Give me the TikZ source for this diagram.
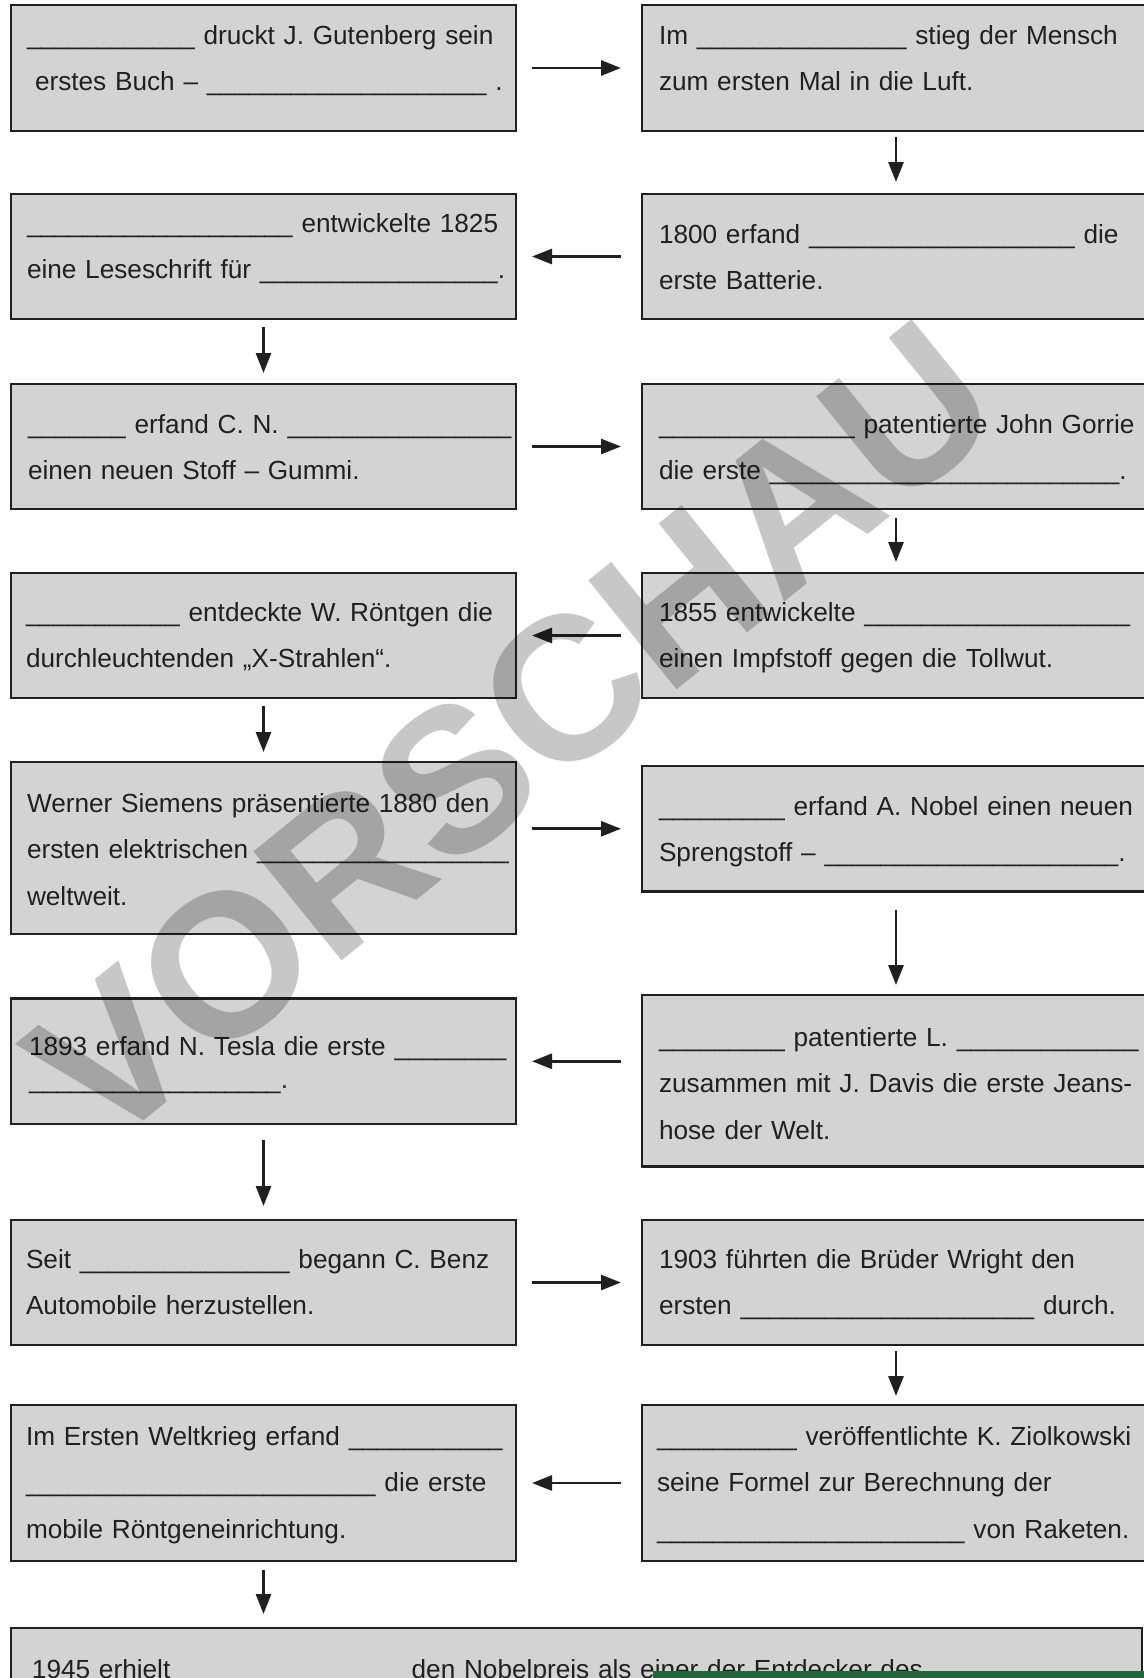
\documentclass[tikz,border=0pt]{standalone}
\usepackage{fontspec}
\setmainfont{Liberation Sans}
\usepackage{xcolor}
\usepackage{graphicx}
\usepackage{tikz}
\usetikzlibrary{arrows.meta,positioning}

\definecolor{boxgray}{HTML}{D1D3D4}
\definecolor{inkgray}{HTML}{231F20}
\definecolor{bargreen}{HTML}{24653A}

\newcount\gapcount
\newcommand\blank[1]{\scalebox{0.96}[1]{\gapcount=#1\relax\loop\textunderscore\advance\gapcount by -1\ifnum\gapcount>0 \repeat}}

\begin{document}
\begin{tikzpicture}[x=0.5pt, y=-0.5pt, every node/.style={inner sep=0pt, outer sep=0pt}]
  % Inventions worksheet: blank cloze cards
  \tikzstyle{card} = [rectangle, fill=boxgray, draw=inkgray, line width=1.4pt, anchor=north west, minimum width=252.5pt, minimum height=62.5pt]
  \tikzstyle{rcard} = [card, minimum width=254pt]
  \tikzstyle{cardtext} = [anchor=north west, align=left, text width=300pt, text=inkgray, font=\fontsize{13.1pt}{23.3pt}\selectfont, execute at begin node={\rule{0pt}{16pt}}]
  \tikzstyle{flow} = [line width=1.4pt, draw=inkgray, -{Triangle[length=10pt, width=7.5pt]}]
  \tikzstyle{stamp} = [text=black, text opacity=0.22, font=\fontsize{102pt}{102pt}\selectfont\bfseries, rotate=39]

  \useasboundingbox (0,0) rectangle (1144,1678);

  % Left column
  \node[card, minimum height=63pt] (druck) at (11,5) {};
  \node[card] (braille) at (11,194) {};
  \node[card] (gummi) at (11,384) {};
  \node[card] (roentgen) at (11,573) {};
  \node[card, minimum height=86pt] (lok) at (11,762) {};
  \node[card, minimum height=62.75pt] (tesla) at (11,998.5) {};
  \node[card] (benz) at (11,1220) {};
  \node[card, minimum height=78pt] (mobil) at (11,1405) {};

  % Right column
  \node[rcard, minimum height=63pt] (ballon) at (642,5) {};
  \node[rcard] (batterie) at (642,194) {};
  \node[rcard] (kuehl) at (642,384) {};
  \node[rcard] (impf) at (642,573) {};
  \node[rcard, minimum height=62.75pt] (dynamit) at (642,766) {};
  \node[rcard, minimum height=85.75pt] (jeans) at (642,995) {};
  \node[rcard] (flug) at (642,1220) {};
  \node[rcard, minimum height=78pt] (rakete) at (642,1405) {};

  % Bottom card
  \node[card, minimum width=565.5pt, minimum height=50pt] (nobel) at (11,1628) {};

  % Card texts
  \node[cardtext] (druck-txt) at (27,12) {\blank{11} druckt J. Gutenberg sein\\ \hspace*{4pt}erstes Buch – \blank{19} .};
  \node[cardtext] (ballon-txt) at (659,12) {Im \blank{14} stieg der Mensch\\zum ersten Mal in die Luft.};
  \node[cardtext] (braille-txt) at (27,200) {\blank{18} entwickelte 1825\\eine Leseschrift für \blank{16}.};
  \node[cardtext] (batterie-txt) at (659,211) {1800 erfand \blank{18} die\\erste Batterie.};
  \node[cardtext] (gummi-txt) at (28,401) {\blank{6} erfand C. N. \blank{15}\\einen neuen Stoff – Gummi.};
  \node[cardtext] (kuehl-txt) at (659,401) {\blank{13} patentierte John Gorrie\\die erste \blank{24}.};
  \node[cardtext] (roentgen-txt) at (26,589) {\blank{10} entdeckte W. Röntgen die\\durchleuchtenden „X-Strahlen“.};
  \node[cardtext] (impf-txt) at (659,589) {1855 entwickelte \blank{18}\\einen Impfstoff gegen die Tollwut.};
  \node[cardtext] (lok-txt) at (27,780) {Werner Siemens präsentierte 1880 den\\ersten elektrischen \blank{17}\\weltweit.};
  \node[cardtext] (dynamit-txt) at (659,783) {\blank{8} erfand A. Nobel einen neuen\\Sprengstoff – \blank{20}.};
  \node[cardtext] (tesla-txt) at (29,1023) {1893 erfand N. Tesla die erste \blank{7}\\[-6.8pt]\blank{17}.};
  \node[cardtext] (jeans-txt) at (659,1014) {\blank{8} patentierte L. \blank{12}\\zusammen mit J. Davis die erste Jeans-\\hose der Welt.};
  \node[cardtext] (benz-txt) at (26,1236) {Seit \blank{14} begann C. Benz\\Automobile herzustellen.};
  \node[cardtext] (flug-txt) at (659,1236) {1903 führten die Brüder Wright den\\ersten \blank{20} durch.};
  \node[cardtext] (mobil-txt) at (26,1413) {Im Ersten Weltkrieg erfand \blank{10}\\\blank{24} die erste\\mobile Röntgeneinrichtung.};
  \node[cardtext] (rakete-txt) at (657,1413) {\blank{9} veröffentlichte K. Ziolkowski\\seine Formel zur Berechnung der\\\blank{21} von Raketen.};
  \node[cardtext, text width=560pt] (nobel-txt) at (32,1646) {1945 erhielt \blank{15} den Nobelpreis als einer der Entdecker des};

  % Arrows across
  \draw[flow, shorten <=8pt, shorten >=10.5pt] (druck) -- (ballon);
  \draw[flow, shorten <=10.5pt, shorten >=8pt] (batterie) -- (braille);
  \draw[flow, shorten <=8pt, shorten >=10.5pt] (gummi) -- (kuehl);
  \draw[flow, shorten <=10.5pt, shorten >=8pt] (impf) -- (roentgen);
  \draw[flow, shorten <=8pt, shorten >=10.5pt] (lok.east |- dynamit.west) -- (dynamit.west);
  \draw[flow, shorten <=10.5pt, shorten >=8pt] (jeans.west |- tesla.east) -- (tesla.east);
  \draw[flow, shorten <=8pt, shorten >=10.5pt] (benz) -- (flug);
  \draw[flow, shorten <=10.5pt, shorten >=8pt] (rakete) -- (mobil);

  % Arrows down
  \draw[flow, shorten <=3pt, shorten >=6pt] (ballon) -- (batterie);
  \draw[flow, shorten <=4pt, shorten >=5.5pt] (braille) -- (gummi);
  \draw[flow, shorten <=4.5pt, shorten >=5.5pt] (kuehl) -- (impf);
  \draw[flow, shorten <=4pt, shorten >=5pt] (roentgen) -- (lok);
  \draw[flow, shorten <=9pt, shorten >=5pt] (dynamit) -- (jeans);
  \draw[flow, shorten <=8pt, shorten >=7pt] (tesla) -- (benz);
  \draw[flow, shorten <=3pt, shorten >=4.5pt] (flug) -- (rakete);
  \draw[flow, shorten <=4.5pt, shorten >=7pt] (mobil.south) -- (mobil.south |- nobel.north);

  % Watermark and green bar
  \node[stamp] (vorschau) at (512,733) {VORSCHAU};
  \fill[bargreen] (653,1671) rectangle (1150,1690);

\end{tikzpicture}
\end{document}
